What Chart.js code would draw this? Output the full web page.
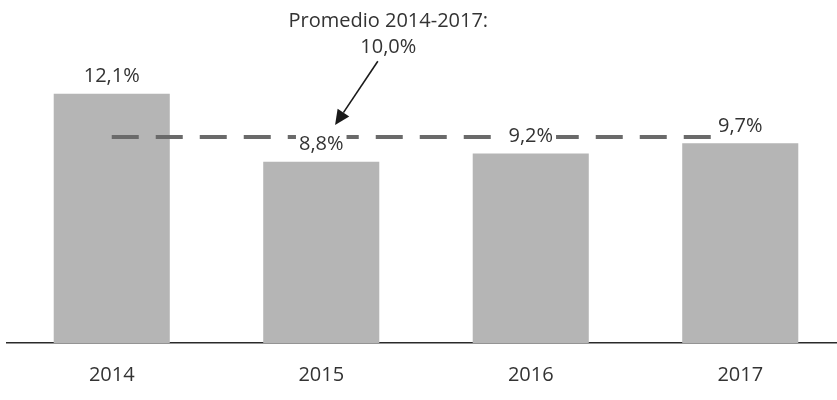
<!DOCTYPE html>
<html>
<head>
<meta charset="utf-8">
<script src="https://cdn.jsdelivr.net/npm/chart.js@4/dist/chart.umd.min.js"></script>
<style>
  html, body { margin: 0; padding: 0; background: #ffffff; overflow: hidden; }
  #wrap { width: 845px; height: 400px; position: relative; }
</style>
</head>
<body>
<div id="wrap"><canvas id="c" width="845" height="400"></canvas></div>
<script>
const categories = ['2014', '2015', '2016', '2017'];
const values = [12.1, 8.8, 9.2, 9.7];
const valueLabels = ['12,1%', '8,8%', '9,2%', '9,7%'];
const averageValue = 10.0;
const averageLabel = ['Promedio 2014-2017:', '10,0%'];

const FONT = '"Open Sans", "DejaVu Sans", sans-serif';
const TEXT = '#333333';

const overlay = {
  id: 'overlay',
  afterDatasetsDraw(chart) {
    const ctx = chart.ctx;
    const xs = chart.scales.x, ys = chart.scales.y;
    const px = v => xs.getPixelForValue(v);
    const py = v => ys.getPixelForValue(v);

    // average dashed line
    const yAvg = py(averageValue);
    ctx.save();
    ctx.setLineDash([27, 17]);
    ctx.lineWidth = 4;
    ctx.strokeStyle = '#6a6a6a';
    ctx.beginPath();
    ctx.moveTo(px(0), yAvg);
    ctx.lineTo(px(categories.length - 1), yAvg);
    ctx.stroke();
    ctx.restore();

    // value labels with white background
    ctx.save();
    ctx.font = '20px ' + FONT;
    ctx.textAlign = 'center';
    ctx.textBaseline = 'middle';
    const meta = chart.getDatasetMeta(0);
    meta.data.forEach((bar, i) => {
      const cy = bar.y - 17;
      const w = ctx.measureText(valueLabels[i]).width;
      ctx.fillStyle = '#ffffff';
      ctx.fillRect(bar.x - w / 2 - 3, cy - 14, w + 6, 28);
      ctx.fillStyle = TEXT;
      ctx.fillText(valueLabels[i], bar.x, cy);
    });
    ctx.restore();

    // annotation text
    ctx.save();
    ctx.font = '20px ' + FONT;
    ctx.textAlign = 'center';
    ctx.textBaseline = 'middle';
    ctx.fillStyle = TEXT;
    const tx = px(1.32);
    ctx.fillText(averageLabel[0], tx, py(15.6));
    ctx.fillText(averageLabel[1], tx, py(14.37));

    // arrow
    const ax0 = px(1.27), ay0 = py(13.68);
    const ax1 = px(1.066), ay1 = py(10.58);
    const ang = Math.atan2(ay1 - ay0, ax1 - ax0);
    const headLen = 15, headW = 7;
    const bx = ax1 - headLen * Math.cos(ang), by = ay1 - headLen * Math.sin(ang);
    ctx.strokeStyle = '#1a1a1a';
    ctx.lineWidth = 1.6;
    ctx.beginPath();
    ctx.moveTo(ax0, ay0);
    ctx.lineTo(bx, by);
    ctx.stroke();
    ctx.fillStyle = '#1a1a1a';
    ctx.beginPath();
    ctx.moveTo(ax1, ay1);
    ctx.lineTo(bx + headW * Math.sin(ang), by - headW * Math.cos(ang));
    ctx.lineTo(bx - headW * Math.sin(ang), by + headW * Math.cos(ang));
    ctx.closePath();
    ctx.fill();
    ctx.restore();
  }
};

new Chart(document.getElementById('c'), {
  type: 'bar',
  data: {
    labels: categories,
    datasets: [{
      data: values,
      backgroundColor: '#b5b5b5',
      borderWidth: 0,
      barPercentage: 0.554,
      categoryPercentage: 1.0
    }]
  },
  options: {
    responsive: false,
    animation: false,
    events: [],
    layout: { padding: { left: 7, right: 0, top: 34, bottom: 1 } },
    plugins: { legend: { display: false }, tooltip: { enabled: false } },
    scales: {
      x: {
        grid: { display: false },
        border: { display: true, color: '#2a2a2a', width: 1.5 },
        ticks: { color: TEXT, font: { family: FONT, size: 20 }, padding: 12 }
      },
      y: {
        display: false,
        min: 0,
        max: 15
      }
    }
  },
  plugins: [overlay]
});
</script>
</body>
</html>
